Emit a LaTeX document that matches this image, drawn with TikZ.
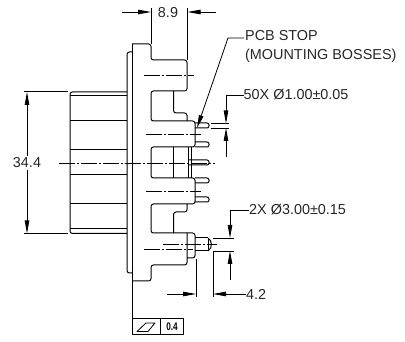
\documentclass[tikz,border=0pt]{standalone}
\usepackage{fontspec}
\setmainfont{Liberation Sans}
\usetikzlibrary{arrows.meta}
\tikzset{
  part/.style={line width=1pt,rounded corners=2.5pt},
  dimline/.style={line width=.8pt},
  centerline/.style={line width=.8pt,dash pattern=on 16pt off 2pt on 2pt off 2pt},
  dimtext/.style={inner sep=0pt,font=\fontsize{14.4}{19}\selectfont,text=black!85},
}
\begin{document}
\begin{tikzpicture}[x=1pt,y=-1pt,line cap=butt,line join=round,>={Triangle[length=13pt,width=4.5pt]}]
        \useasboundingbox (0,0) rectangle (405,342);
        % body on the left
        \draw[part] (127,92) -- (70,92) -- (70,233.5) -- (127,233.5);
        \foreach \bodyy in {96,120.5,150,175,204,229}
            \draw[line width=1pt] (70,\bodyy) -- (127,\bodyy);
        % flange
        \draw[part] (132,52) -- (127,52) -- (127,273) -- (132,273);
        \draw[line width=1pt] (132,44) -- (132,281);
        % outline with the bosses
        \draw[part] (132,44) -- (151,44) -- (151,60) -- (187,60) -- (187,91) -- (151,91) -- (151,121) -- (195,121) -- (195,147) -- (151,147) -- (151,178) -- (195,178) -- (195,204) -- (151,204) -- (151,233) -- (195,233) -- (195,258) -- (187,258);
        \draw[part] (187,233) -- (187,265) -- (151,265) -- (151,281) -- (132,281);
        \draw[part] (173.5,91) -- (173.5,113) -- (187,113) -- (187,121);
        \draw[part] (187,204) -- (187,212) -- (173.5,212) -- (173.5,233);
        \draw[line width=1pt] (173.5,147) -- (173.5,178);
        \draw[line width=1pt] (188,147) -- (188,178);
        \draw[line width=1pt] (191,147) -- (191,178);
        % pins
        \foreach \pintop in {123,142,178,197}
            \draw[part,rounded corners=2pt] (195,\pintop) -- (209,\pintop) -- (209,\pintop+5) -- (195,\pintop+5);
        \draw[part,rounded corners=2pt] (188,160) -- (209,160) -- (209,165) -- (188,165);
        \draw[line width=1pt] (195,238) -- (208,238);
        \draw[line width=1pt] (195,251) -- (208,251);
        \draw[line width=1pt] (208,238) -- (208,251);
        \draw[line width=1pt] (208,238) .. controls (212,240) and (213,248) .. (208,251);
        % center lines
        \draw[centerline] (59,163) -- (215,163);
        \draw[centerline] (144,75.5) -- (194,75.5);
        \draw[centerline] (146,134) -- (201,134);
        \draw[centerline] (146,191) -- (201,191);
        \draw[centerline] (144,249.5) -- (193,249.5);
        \draw[centerline] (163,244.5) -- (217,244.5);
        % overall width
        \node[dimtext] (width) at (168,13) {8.9};
        \coordinate (widthl) at (151,12);
        \coordinate (widthr) at (187.5,12);
        \draw[dimline] (151,8) -- (151,44);
        \draw[dimline] (187.5,8) -- (187.5,60);
        \draw[dimline,->] (122,12) -- (widthl);
        \draw[dimline,->] (216,12) -- (widthr);
        % height
        \node[dimtext,inner ysep=2pt] (height) at (27,163) {34.4};
        \coordinate (heightt) at (27,92);
        \coordinate (heightb) at (27,233.5);
        \draw[dimline] (24,91.5) -- (68,91.5);
        \draw[dimline] (24,233.5) -- (68,233.5);
        \draw[dimline,->] (height.north) -- (heightt);
        \draw[dimline,->] (height.south) -- (heightb);
        % pcb stop
        \node[dimtext,anchor=north west,align=left] (pcbstop) at (245,30.5) {PCB STOP\\(MOUNTING BOSSES)};
        \coordinate (pcbstart) at (244,38);
        \coordinate (pcbelbow) at (228,38);
        \coordinate (pcbtip) at (197,128);
        \draw[dimline,->] (pcbstart) -- (pcbelbow) -- (pcbtip);
        % small pins
        \node[dimtext,anchor=west] (pinsize) at (243.5,95) {50X Ø1.00±0.05};
        \coordinate (pinelbow) at (226,95);
        \coordinate (pintop) at (226,123.5);
        \coordinate (pinbot) at (226,128);
        \draw[dimline] (211,123.5) -- (229,123.5);
        \draw[dimline] (211,128) -- (229,128);
        \draw[dimline,->] (pinsize.west) -- (pinelbow) -- (pintop);
        \draw[dimline,->] (226,157) -- (pinbot);
        % big pin
        \node[dimtext,anchor=west] (bigpin) at (249,210) {2X Ø3.00±0.15};
        \coordinate (bigelbow) at (230,210);
        \coordinate (bigtop) at (230,238);
        \coordinate (bigbot) at (230,251);
        \draw[dimline] (213,238) -- (234,238);
        \draw[dimline] (213,251) -- (234,251);
        \draw[dimline,->] (bigpin.west) -- (bigelbow) -- (bigtop);
        \draw[dimline,->] (230,280) -- (bigbot);
        % pin length
        \node[dimtext,anchor=west] (pinlen) at (246,294) {4.2};
        \coordinate (lenl) at (196,294);
        \coordinate (lenr) at (213,294);
        \draw[dimline] (196,259) -- (196,297);
        \draw[dimline] (213,252) -- (213,297);
        \draw[dimline,->] (167,294) -- (lenl);
        \draw[dimline,->] (pinlen.west) -- (lenr);
        % flatness frame
        \draw[dimline] (132,281) -- (132,319);
        \draw[line width=1pt] (132,319) rectangle (183,335);
        \draw[line width=1pt] (160,319) -- (160,335);
        \draw[dimline] (137,331.5) -- (146,323) -- (155,323) -- (148,331.5) -- cycle;
        \node[inner sep=0pt,xscale=.75,font=\fontsize{11}{11}\selectfont\bfseries] (flat) at (172,327) {0.4};
    \end{tikzpicture}
\end{document}
